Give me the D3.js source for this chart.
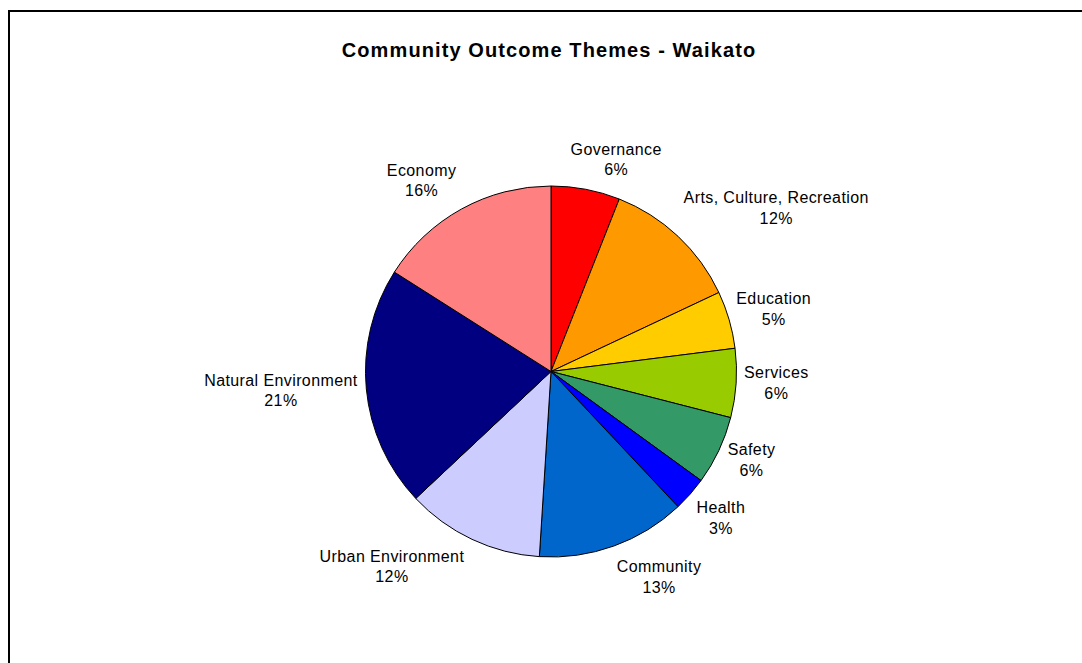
<!DOCTYPE html>
<html>
<head>
<meta charset="utf-8">
<script src="https://cdn.jsdelivr.net/npm/d3@7"></script>
<style>
  html, body { margin: 0; padding: 0; background: #fff; }
  svg { display: block; }
  text { font-family: "Liberation Sans", Arial, sans-serif; fill: #000; }
</style>
</head>
<body>
<svg id="chart" width="1082" height="663"></svg>
<script>
// Community outcome themes (share of outcomes, %)
const categories = [
  "Governance", "Arts, Culture, Recreation", "Education", "Services", "Safety",
  "Health", "Community", "Urban Environment", "Natural Environment", "Economy"
];
const values = [6, 12, 5, 6, 6, 3, 13, 12, 21, 16];
const colors = [
  "#FF0000", "#FF9900", "#FFCC00", "#99CC00", "#339966",
  "#0000FF", "#0066CC", "#CCCCFF", "#000080", "#FF8080"
];
const title = "Community Outcome Themes - Waikato";

// Layout
const W = 1082, H = 663;
const cx = 551, cy = 371.5, R = 185.5;
const labelGap = 10, labelLine = 20.5, blockH = 40;
// fine placement of each data label relative to its default spot
const labelNudge = {
  "Governance": [20, 0],
  "Arts, Culture, Recreation": [28, -6],
  "Education": [-1, -2],
  "Services": [-2, -2],
  "Safety": [2, -3],
  "Health": [5, 4],
  "Community": [27.5, 3],
  "Urban Environment": [-45, 0.5],
  "Natural Environment": [1, -1],
  "Economy": [-18.5, -2]
};

const svg = d3.select("#chart");

// chart area frame
svg.append("rect")
  .attr("x", 9).attr("y", 11)
  .attr("width", W + 20).attr("height", H + 20)
  .attr("fill", "#fff")
  .attr("stroke", "#000")
  .attr("stroke-width", 2);

svg.append("text")
  .attr("x", 549).attr("y", 57)
  .attr("text-anchor", "middle")
  .style("font-size", "20px")
  .style("font-weight", "bold")
  .style("letter-spacing", "1.1px")
  .text(title);

const data = categories.map((c, i) => ({ name: c, value: values[i], color: colors[i] }));
const total = d3.sum(values);

const pie = d3.pie().sort(null).value(d => d.value);
const arc = d3.arc().innerRadius(0).outerRadius(R);
const arcs = pie(data);

const g = svg.append("g").attr("transform", `translate(${cx},${cy})`);

g.selectAll("path.slice")
  .data(arcs)
  .join("path")
  .attr("class", "slice")
  .attr("d", arc)
  .attr("fill", d => d.data.color)
  .attr("stroke", "#000")
  .attr("stroke-width", 1)
  .attr("stroke-linejoin", "round");

const fmt = d3.format(".0%");

const labels = g.selectAll("g.label")
  .data(arcs)
  .join("g")
  .attr("class", "label");

labels.each(function (d) {
  const sel = d3.select(this);
  const t = sel.append("text")
    .attr("text-anchor", "middle")
    .style("font-size", "16px")
    .style("letter-spacing", "0.4px");
  t.append("tspan").attr("x", 0).attr("dy", 0).text(d.data.name);
  t.append("tspan").attr("x", 0).attr("dy", labelLine).text(fmt(d.data.value / total));

  const w = t.node().getBBox().width;
  const a = (d.startAngle + d.endAngle) / 2;
  const s = Math.sin(a), c = Math.cos(a);
  const x = s * (R + labelGap + w / 2);
  const yc = -c * (R + labelGap + blockH / 2);
  const n = labelNudge[d.data.name] || [0, 0];
  // baseline of first line sits 5px above block centre
  sel.attr("transform", `translate(${x + n[0]},${yc - 5 + n[1]})`);
});
</script>
</body>
</html>
